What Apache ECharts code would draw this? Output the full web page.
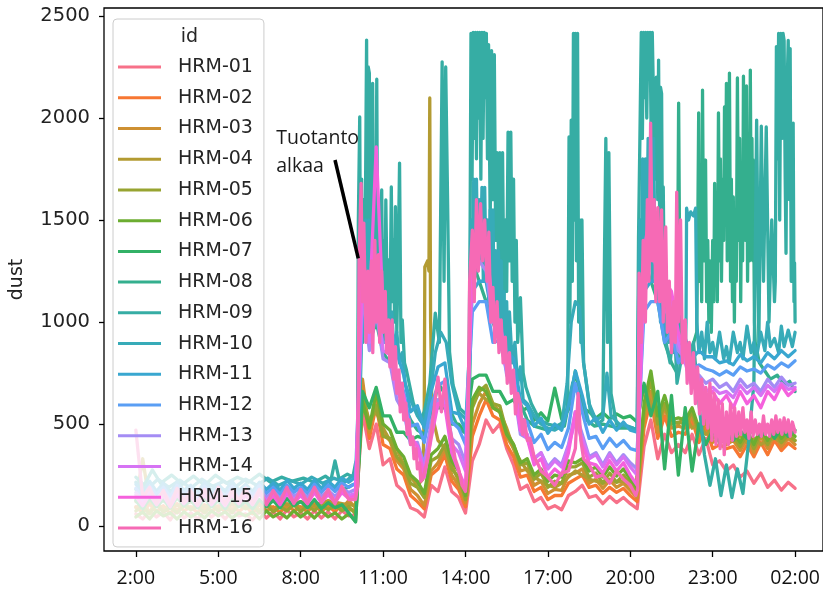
<!DOCTYPE html>
<html lang="en">
<head>
    <meta charset="utf-8" />
    <title>dust</title>
    <script src="https://cdn.jsdelivr.net/npm/echarts@6/dist/echarts.min.js"></script>
    <style>
        html, body { margin: 0; padding: 0; background: #fff; }
        #main { width: 823px; height: 597px; }
    </style>
</head>
<body>
<div id="main"></div>
<script>
    // x values are hours from midnight of the first day (26 = 02:00 next day)
    var tickHours = [2, 5, 8, 11, 14, 17, 20, 23, 26];
    var tickLabels = ['2:00', '5:00', '8:00', '11:00', '14:00', '17:00', '20:00', '23:00', '02:00'];
    var yTicks = [0, 500, 1000, 1500, 2000, 2500];
    var ids = ['HRM-01', 'HRM-02', 'HRM-03', 'HRM-04', 'HRM-05', 'HRM-06', 'HRM-07', 'HRM-08',
        'HRM-09', 'HRM-10', 'HRM-11', 'HRM-12', 'HRM-13', 'HRM-14', 'HRM-15', 'HRM-16'];

    // quarter hour sampling used by most sensors
    var gridHours = [2,2.25,2.5,2.75,3,3.25,3.5,3.75,4,4.25,4.5,4.75,5,5.25,5.5,5.75,6,6.25,6.5,6.75,
        7,7.25,7.5,7.75,8,8.25,8.5,8.75,9,9.25,9.5,9.75,10,10.25,10.5,10.75,11,11.25,11.5,11.75,
        12,12.25,12.5,12.75,13,13.25,13.5,13.75,14,14.25,14.5,14.75,15,15.25,15.5,15.75,16,16.25,16.5,16.75,
        17,17.25,17.5,17.75,18,18.25,18.5,18.75,19,19.25,19.5,19.75,20,20.25,20.5,20.75,21,21.25,21.5,21.75,
        22,22.25,22.5,22.75,23,23.25,23.5,23.75,24,24.25,24.5,24.75,25,25.25,25.5,25.75,26];

    var hrm01 = [
        60,35,75,45,70,30,80,40, 65,35,75,45,70,35,75,50, 60,30,75,40,70,35,80,45, 65,35,75,40,70,35,75,50,
        55,560,380,500,300,330,200,170, 90,75,45,200,170,290,170,140, 64,320,400,520,460,500,380,300,
        180,200,120,140,85,100,80,150, 170,200,140,150,110,145,115,140, 110,85,390,520,330,450,360,400,
        360,450,350,430,300,320,270,300, 240,270,210,260,190,225,176,215, 185];
    var hrm02 = [
        95,65,110,70,100,60,110,75, 95,65,105,70,100,70,110,70, 100,60,110,75,95,65,110,75, 95,70,110,70,100,70,110,80,
        80,680,430,590,400,380,280,250, 150,120,85,250,280,350,220,180, 95,440,540,620,540,520,400,340,
        240,250,170,190,130,150,150,210, 230,250,190,200,160,190,165,185, 150,120,480,620,430,540,440,460,
        450,520,410,480,380,400,380,390, 340,400,340,410,350,420,370,407, 380];
    var hrm03 = [
        90,110,70,120,80,110,75,115, 85,110,75,120,85,110,80,115, 90,115,75,120,80,110,85,120, 85,115,85,120,90,115,85,125,
        90,720,460,630,450,420,320,280, 180,150,100,270,310,380,250,200, 115,500,600,660,580,560,440,380,
        270,280,200,220,160,180,175,250, 260,280,210,230,185,225,190,210, 175,140,520,660,460,580,480,490,
        480,540,440,510,410,430,400,420, 370,430,360,440,380,450,390,430, 400];
    var hrm04 = [
        [2,120],[2.25,330],[2.5,110],[3,125],[3.5,100],[4,120],[4.5,95],[5,125],[5.5,105],[6,120],[6.5,100],
        [7,130],[7.5,105],[8,120],[8.5,100],[9,125],[9.5,110],[10,100],
        [10.1,300],[10.25,620],[10.5,520],[10.75,560],[11,480],[11.25,420],[11.5,380],[11.75,300],[12,240],
        [12.25,200],[12.45,230],[12.5,600],[12.52,1270],[12.62,1300],[12.67,1250],[12.7,2098],[12.73,1000],
        [12.78,550],[13,420],[13.25,380],[13.5,300],[13.75,220],[14.05,150],
        [14.15,500],[14.25,620],[14.5,650],[14.75,620],[15,600],[15.25,560],[15.5,480],[15.75,380],[16,320],
        [16.25,270],[16.5,240],[16.75,220],[17,200],[17.25,190],[17.5,210],[17.75,240],[18,270],[18.25,250],
        [18.5,230],[18.75,220],[19,210],[19.25,230],[19.5,215],[19.75,220],[20,200],[20.22,160],
        [20.3,550],[20.5,680],[20.75,600],[21,540],[21.25,580],[21.5,520],[21.75,500],[22,540],[22.25,480],
        [22.5,500],[22.75,450],[23,470],[23.25,430],[23.5,450],[23.75,420],[24,440],[24.25,410],[24.5,430],
        [24.75,400],[25,420],[25.25,430],[25.5,410],[25.75,440],[26,420]];
    var hrm05 = [
        75,95,60,105,70,90,65,100, 80,95,65,100,75,95,65,105, 85,100,65,105,70,95,75,105, 70,100,75,105,80,100,75,95,
        60,640,500,590,440,430,340,300, 210,190,140,320,340,400,280,240, 130,580,660,690,600,590,460,400,
        300,310,230,260,190,220,210,290, 290,310,240,260,210,260,215,250, 210,170,560,720,500,600,500,510,
        500,560,460,520,430,450,420,440, 390,450,380,460,400,470,410,450, 420];
    var hrm06 = [
        45,70,35,75,50,65,35,70, 45,65,40,75,50,70,40,65, 50,70,35,75,45,65,40,75, 45,70,40,75,45,65,35,60,
        25,610,480,660,500,470,380,340, 250,220,160,350,380,440,320,270, 150,620,680,660,580,560,450,400,
        310,330,250,280,220,250,240,320, 310,330,270,290,240,290,245,280, 230,190,600,760,540,640,520,530,
        520,580,480,540,450,470,440,460, 410,470,400,480,420,490,430,470, 440];
    var hrm07 = [
        125,85,135,95,130,90,140,100, 125,90,135,95,125,85,135,95, 120,85,130,95,125,90,135,100, 120,90,130,85,115,90,105,65,
        20,660,580,680,540,540,460,460, 420,440,430,580,580,580,500,500, 460,720,740,740,660,660,600,620,
        560,580,520,555,515,676,525,570, 760,580,560,530,555,525,550,530, 540,510,700,540,660,280,640,250,
        580,270,500,400,470,410,480,420, 470,430,490,440,480,430,480,440, 470];
    var hrm08 = [
        [2,180],[2.5,150],[3,190],[3.5,160],[4,185],[4.5,155],[5,190],[5.5,160],[6,180],[6.5,165],[7,195],
        [7.5,160],[8,185],[8.5,170],[9,200],[9.5,175],[10,210],
        [10.1,300],[10.25,1100],[10.5,900],[10.75,1000],[11,850],[11.25,800],[11.5,700],[11.75,600],[12,520],
        [12.25,470],[12.5,450],[12.75,520],[13,700],[13.25,650],[13.5,550],[13.75,480],[14.05,450],
        [14.15,700],[14.25,1300],[14.5,1200],[14.75,1100],[15,1000],[15.25,900],[15.5,800],[15.75,700],[16,600],
        [16.25,520],[16.5,490],[16.75,480],[17,470],[17.3,480],[17.6,490],[17.9,700],[18.1,650],[18.4,520],
        [18.7,490],[19,500],[19.3,490],[19.6,480],[20,480],[20.25,470],
        [20.35,900],[20.5,1300],[20.75,1200],[21,1100],[21.25,900],[21.5,800],[21.7,750],[21.76,2073],[21.82,800],
        [22,900],[22.2,850],[22.42,950],[22.46,1500],[22.49,2025],[22.52,1200],[22.56,1600],[22.6,1100],
        [22.63,2137],[22.66,1500],[22.68,1300],[22.71,1700],[22.74,1794],[22.78,1100],[22.82,1400],[22.86,1000],
        [22.9,1300],[22.95,950],[23,1400],[23.04,1100],[23.07,1680],[23.1,1200],[23.14,1500],[23.17,1100],
        [23.21,2025],[23.25,1300],[23.28,1800],[23.32,1200],[23.36,1700],[23.4,1400],[23.43,2054],[23.47,1600],
        [23.5,2170],[23.53,1300],[23.56,1900],[23.58,1400],[23.61,2220],[23.65,1200],[23.68,1700],[23.72,1100],
        [23.75,1613],[23.79,1000],[23.82,1500],[23.86,1200],[23.9,2196],[23.94,1400],[23.98,1900],[24.02,1100],
        [24.05,1600],[24.09,1300],[24.12,2205],[24.15,1500],[24.18,1900],[24.2,1400],[24.23,2157],[24.27,1200],
        [24.3,1700],[24.34,1300],[24.37,2235],[24.4,1500],[24.43,1900],[24.46,1300],[24.48,1794],[24.52,1000],
        [24.55,900],[24.7,800],[24.9,760],[25.1,720],[25.35,740],[25.6,690],[25.8,710],[26,660]];
    var hrm09 = [
        [2,240],[2.3,200],[2.6,275],[2.9,210],[3.3,250],[3.7,205],[4.1,245],[4.5,200],[4.9,250],[5.3,210],
        [5.7,240],[6.1,215],[6.5,255],[6.9,215],[7.3,240],[7.7,220],[8.1,235],[8.5,215],[8.9,245],[9.1,225],
        [9.25,320],[9.4,230],[9.7,255],[9.9,240],[10,310],[10.07,330],
        [10.1,1500],[10.15,2005],[10.18,1100],[10.22,1700],[10.26,900],[10.3,1600],[10.34,1200],[10.38,2000],
        [10.4,2382],[10.43,1300],[10.46,2250],[10.5,2220],[10.53,1100],[10.57,1900],[10.62,2170],[10.66,1200],
        [10.7,1700],[10.74,1300],[10.77,2190],[10.81,1000],[10.85,1500],[10.9,1100],[10.95,1647],[10.99,1000],
        [11.02,1400],[11.06,900],[11.1,1598],[11.15,1100],[11.2,1304],[11.25,1000],[11.3,1662],[11.34,1100],
        [11.38,1400],[11.42,1000],[11.45,1565],[11.5,950],[11.55,1300],[11.6,1779],[11.65,900],[11.7,1010],
        [11.78,800],[11.85,765],[12.1,603],[12.35,520],[12.5,560],
        [12.7,700],[12.9,1044],[13.05,900],[13.15,2275],[13.22,1200],[13.28,2250],[13.35,1583],[13.42,853],
        [13.55,690],[13.8,575],[14.05,545],
        [14.12,600],[14.17,1500],[14.2,2415],[14.24,1700],[14.28,2420],[14.32,1900],[14.36,2420],[14.4,1800],
        [14.44,2420],[14.48,2000],[14.52,2420],[14.56,1700],[14.6,2420],[14.64,1900],[14.68,2420],[14.72,2100],
        [14.76,2415],[14.8,1800],[14.84,2360],[14.9,1500],[14.95,2330],[15,1600],[15.05,2310],[15.1,1400],
        [15.15,1830],[15.2,1300],[15.25,1830],[15.3,1200],[15.35,1830],[15.4,1100],[15.45,1500],[15.5,1150],
        [15.55,1930],[15.6,1300],[15.65,1930],[15.7,1200],[15.75,1700],[15.8,1000],[15.85,1400],[15.9,900],
        [16,1120],[16.1,750],[16.2,680],[16.4,600],[16.7,520],[17,500],[17.3,490],[17.6,510],
        [17.72,600],[17.77,1907],[17.8,1000],[17.85,1990],[17.89,1200],[17.93,2415],[17.97,1500],[18,2415],
        [18.04,1300],[18.08,2415],[18.12,1000],[18.16,1500],[18.2,900],[18.24,1500],[18.3,800],
        [18.55,560],[18.8,500],[19,520],[19.05,1200],[19.11,1900],[19.17,900],[19.22,1830],
        [19.3,650],[19.5,500],[19.8,490],[20.1,480],[20.25,470],
        [20.3,1417],[20.35,1900],[20.4,2420],[20.44,1900],[20.48,2420],[20.52,2100],[20.56,2420],[20.6,2000],
        [20.64,2420],[20.68,2200],[20.72,2420],[20.76,1900],[20.8,2420],[20.85,2420],[20.9,1700],[20.95,2200],
        [21,1600],[21.03,2284],[21.07,1500],[21.1,2150],[21.14,2120],[21.17,1400],[21.2,1662],[21.25,1000],
        [21.3,900],[21.45,800],[21.6,1000],[21.7,700],
        [21.9,850],[22.1,800],[22.3,900],[22.5,600],[22.7,350],[22.9,200],[23.1,330],[23.3,150],[23.5,300],
        [23.7,140],[23.9,280],[24.1,160],[24.3,400],[24.5,700],
        [24.6,1990],[24.68,900],[24.77,1960],[24.85,1200],[24.95,1956],[25.05,1000],[25.15,1500],[25.25,1100],
        [25.28,1200],[25.32,2350],[25.36,1800],[25.4,2415],[25.44,1500],[25.48,2415],[25.52,1900],[25.56,2415],
        [25.6,2380],[25.64,1700],[25.67,1337],[25.7,2100],[25.75,2380],[25.79,1600],[25.82,2340],[25.86,1200],
        [25.9,1800],[25.93,1975],[25.96,1100],[25.98,1290],[26,1000]];
    var hrm10 = [
        [2,215],[2.4,180],[2.8,230],[3.2,190],[3.6,225],[4,185],[4.4,230],[4.8,195],[5.2,220],[5.6,190],
        [6,230],[6.4,200],[6.8,235],[7.2,200],[7.6,225],[8,205],[8.4,240],[8.8,210],[9.2,235],[9.6,215],[10,260],
        [10.08,300],[10.12,1300],[10.18,1000],[10.24,1400],[10.3,1100],[10.36,1500],[10.42,1150],[10.48,1500],
        [10.54,1100],[10.6,1300],[10.66,1050],[10.72,1400],[10.78,1000],[10.84,1250],[10.9,950],[10.96,1250],
        [11.02,950],[11.08,1150],[11.14,900],[11.2,1100],[11.26,850],[11.32,1050],[11.4,850],[11.5,950],
        [11.6,800],[11.7,850],[11.8,700],[12,620],[12.25,540],[12.45,500],
        [12.7,620],[12.9,850],[13.1,950],[13.3,900],[13.5,700],[13.75,560],[14.05,520],
        [14.15,900],[14.2,1500],[14.25,1200],[14.3,1700],[14.35,1300],[14.4,1700],[14.45,1250],[14.5,1600],
        [14.55,1300],[14.6,1660],[14.65,1200],[14.7,1660],[14.75,1200],[14.8,1500],[14.85,1100],[14.9,1550],
        [14.95,1150],[15,1550],[15.05,1000],[15.1,1350],[15.15,1000],[15.2,1350],[15.25,950],[15.3,1300],
        [15.35,900],[15.4,1150],[15.45,850],[15.5,1100],[15.55,800],[15.6,1050],[15.7,800],[15.8,900],
        [15.9,700],[16,780],[16.1,620],[16.25,600],[16.5,540],
        [16.75,500],[17,480],[17.25,470],[17.5,490],[17.7,700],[17.85,1000],[18,1100],[18.15,1075],[18.3,800],
        [18.5,600],[18.75,520],[19,540],[19.15,750],[19.3,540],[19.6,500],[19.9,490],[20.1,480],[20.25,470],
        [20.3,1100],[20.35,1500],[20.4,1200],[20.45,1800],[20.5,1300],[20.55,1800],[20.6,1400],[20.65,1900],
        [20.7,1300],[20.75,1600],[20.8,1200],[20.85,1900],[20.9,1300],[20.95,1500],[21,1100],[21.05,1400],
        [21.1,1000],[21.15,1300],[21.2,950],[21.3,1100],[21.4,900],[21.5,1000],[21.6,850],[21.7,1050],
        [21.8,850],[21.9,950],[22,850],[22.03,1000],[22.05,1558],[22.12,1500],[22.2,1540],[22.3,1520],
        [22.38,1558],[22.42,1000],[22.5,850],[22.6,950],[22.7,820],[22.8,1000],[22.9,850],[23,900],[23.1,820],
        [23.25,950],[23.4,820],[23.5,880],[23.6,800],[23.75,950],[23.9,850],[24,900],[24.1,820],[24.25,980],
        [24.4,850],[24.5,900],[24.6,830],[24.75,950],[24.9,860],[25,1000],[25.1,880],[25.25,920],[25.4,850],
        [25.5,980],[25.6,880],[25.75,960],[25.9,880],[26,950]];
    var hrm11 = [
        205,165,220,170,210,160,215,175, 200,165,215,175,205,170,220,175, 205,170,215,180,210,175,225,185, 210,180,225,185,220,190,235,215,
        240,1200,950,1250,1000,1000,850,740, 560,590,480,660,780,800,560,550, 470,1150,1200,1200,1000,1000,860,820,
        620,590,490,530,455,500,470,590, 760,640,500,530,460,520,470,510, 470,460,1150,1200,1200,950,1000,860,
        920,820,860,830,830,800,810,790, 840,810,830,800,850,820,860,830, 860];
    var hrm12 = [
        185,145,195,155,190,145,200,160, 185,150,195,155,185,145,195,155, 190,150,200,160,190,155,200,165, 190,160,205,165,200,170,210,190,
        210,1050,1150,1040,900,900,740,660, 490,500,410,590,690,710,510,480, 400,1050,1100,1100,900,910,760,740,
        530,510,410,450,375,410,385,480, 700,560,430,440,380,430,390,420, 380,370,1050,1100,1100,900,950,800,
        860,770,790,770,760,740,760,740, 780,760,770,750,790,770,800,780, 810];
    var hrm13 = [
        165,130,175,135,170,125,175,140, 165,130,175,135,165,130,175,140, 170,135,180,140,170,135,180,145, 170,140,185,145,175,145,185,165,
        180,1150,860,1050,820,800,620,560, 400,410,300,510,620,630,430,400, 310,1250,1300,1250,1000,960,740,680,
        450,430,330,360,290,330,300,400, 560,450,340,360,300,360,310,350, 310,280,1150,1350,1250,1050,1050,860,
        820,700,740,700,720,680,700,660, 720,680,700,660,720,680,730,690, 700];
    var hrm14 = [
        155,115,165,120,160,110,165,125, 155,115,165,120,155,115,165,125, 160,120,170,125,160,120,170,130, 160,125,175,130,165,130,175,150,
        160,1250,900,1150,860,840,660,600, 420,390,270,480,600,610,400,360, 270,1350,1400,1350,1050,1000,780,720,
        470,450,330,360,280,320,290,390, 520,430,330,350,290,350,300,340, 290,250,1250,1450,1350,1150,1100,900,
        800,680,720,660,680,650,660,630, 690,650,680,640,690,660,700,670, 680];
    var hrm15 = [
        145,100,155,105,150,95,155,110, 145,100,155,105,145,100,155,110, 150,105,160,110,150,105,160,115, 150,110,165,115,155,115,165,135,
        150,1350,1050,1858,1050,950,720,640, 440,390,240,430,600,590,360,270, 190,1300,1450,1400,1050,1000,780,720,
        470,430,300,330,240,280,250,360, 560,400,310,300,260,320,270,310, 250,200,1350,1550,1400,1200,1150,950,
        840,680,700,640,660,600,640,580, 660,600,640,580,660,620,690,640, 670];
    var hrm16 = [
        [2,470],[2.25,140],[2.5,190],[2.75,110],[3,175],[3.25,100],[3.5,185],[3.75,120],[4,175],[4.25,105],
        [4.5,180],[4.75,115],[5,190],[5.25,110],[5.5,175],[5.75,125],[6,185],[6.25,110],[6.5,180],[6.75,105],
        [7,175],[7.25,120],[7.5,190],[7.75,110],[8,180],[8.25,115],[8.5,190],[8.75,120],[9,180],[9.25,110],
        [9.5,195],[9.75,130],[10,130],[10.08,200],
        [10.125,1300],[10.2,1680],[10.25,1100],[10.3,1485],[10.375,900],[10.45,1250],[10.5,950],[10.58,1300],
        [10.625,850],[10.7,1400],[10.75,1000],[10.83,1330],[10.875,900],[10.95,1250],[11,950],[11.08,1150],
        [11.125,850],[11.2,1010],[11.25,780],[11.33,1010],[11.375,720],[11.45,880],[11.5,650],[11.58,765],
        [11.625,560],[11.7,700],[11.75,520],[11.83,603],[11.875,450],[11.95,520],[12,400],[12.08,437],
        [12.125,330],[12.2,380],[12.25,280],[12.33,310],[12.375,220],[12.44,230],[12.5,260],
        [12.625,330],[12.75,450],[12.875,600],[13,730],[13.125,560],[13.25,720],[13.375,520],[13.5,430],
        [13.625,330],[13.75,280],[13.875,200],[14,170],
        [14.08,300],[14.15,1200],[14.25,1450],[14.32,1100],[14.4,1600],[14.47,1250],[14.55,1580],[14.62,1300],
        [14.7,1500],[14.78,1200],[14.85,1440],[14.92,1000],[15,1170],[15.07,900],[15.15,1100],[15.22,850],
        [15.3,1010],[15.37,800],[15.45,926],[15.52,700],[15.6,850],[15.67,650],[15.75,765],[15.82,550],
        [15.9,650],[16,600],[16.08,450],[16.15,520],[16.25,420],[16.35,430],[16.5,340],[16.62,310],[16.75,270],
        [17,240],[17.25,200],[17.5,260],[17.75,270],[18,380],[18.1,650],[18.2,420],[18.3,330],[18.5,300],
        [18.75,240],[19,250],[19.25,210],[19.5,270],[19.75,230],[20,200],[20.2,150],
        [20.27,180],[20.32,1240],[20.4,900],[20.47,1400],[20.55,1000],[20.62,1600],[20.68,1200],[20.74,1975],
        [20.8,1300],[20.87,1600],[20.93,1100],[21,1560],[21.07,1100],[21.14,1550],[21.2,1000],[21.29,1466],
        [21.35,950],[21.42,1200],[21.5,850],[21.58,1100],[21.64,900],[21.69,1637],[21.75,1000],[21.83,1500],
        [21.9,800],[22,1010],[22.07,700],[22.15,900],[22.22,650],[22.3,850],[22.37,600],[22.45,780],[22.52,550],
        [22.6,720],[22.67,500],[22.75,680],[22.82,480],[22.9,700],[22.97,420],[23.05,650],[23.12,400],[23.2,620],
        [23.27,380],[23.35,600],[23.42,350],[23.5,560],[23.57,400],[23.65,600],[23.72,420],[23.8,580],[23.87,440],
        [23.95,560],[24.02,450],[24.1,580],[24.17,460],[24.25,520],[24.32,430],[24.4,560],[24.47,440],[24.55,520],
        [24.62,450],[24.7,500],[24.77,440],[24.85,540],[24.92,450],[25,500],[25.07,440],[25.15,520],[25.22,450],
        [25.3,540],[25.37,460],[25.45,520],[25.52,450],[25.6,530],[25.67,460],[25.75,520],[25.82,440],[25.9,510],
        [26,460]];

    function onGrid(vals) {
        return gridHours.map(function (h, i) { return [h, vals[i]]; });
    }

    var seriesData = [onGrid(hrm01), onGrid(hrm02), onGrid(hrm03), hrm04, onGrid(hrm05), onGrid(hrm06),
        onGrid(hrm07), hrm08, hrm09, hrm10, onGrid(hrm11), onGrid(hrm12), onGrid(hrm13), onGrid(hrm14),
        onGrid(hrm15), hrm16];

    // seaborn "husl" palette: hsluv -> rgb
    function husl(h, s, l) {
        var M = [[3.240969941904521, -1.537383177570093, -0.498610760293],
            [-0.96924363628087, 1.87596750150772, 0.041555057407175],
            [0.055630079696993, -0.20397695888897, 1.056971514242878]];
        var kappa = 903.2962962, eps = 0.0088564516;
        var sub1 = Math.pow(l + 16, 3) / 1560896;
        var sub2 = sub1 > eps ? sub1 : l / kappa;
        var hr = h / 360 * 2 * Math.PI;
        var maxC = Infinity;
        M.forEach(function (r) {
            [0, 1].forEach(function (t) {
                var top1 = (284517 * r[0] - 94839 * r[2]) * sub2;
                var top2 = (838422 * r[2] + 769860 * r[1] + 731718 * r[0]) * l * sub2 - 769860 * t * l;
                var bottom = (632260 * r[2] - 126452 * r[1]) * sub2 + 126452 * t;
                var len = (top2 / bottom) / (Math.sin(hr) - (top1 / bottom) * Math.cos(hr));
                if (len >= 0) maxC = Math.min(maxC, len);
            });
        });
        var c = maxC / 100 * s;
        var u = c * Math.cos(hr), v = c * Math.sin(hr);
        var vu = u / (13 * l) + 0.19783000664283, vv = v / (13 * l) + 0.46831999493879;
        var Y = l <= 8 ? l / kappa : Math.pow((l + 16) / 116, 3);
        var X = 0 - (9 * Y * vu) / ((vu - 4) * vv - vu * vv);
        var Z = (9 * Y - 15 * vv * Y - vv * X) / (3 * vv);
        return '#' + M.map(function (r) {
            var x = r[0] * X + r[1] * Y + r[2] * Z;
            x = x <= 0.0031308 ? 12.92 * x : 1.055 * Math.pow(x, 1 / 2.4) - 0.055;
            x = Math.round(Math.min(1, Math.max(0, x)) * 255);
            return (x < 16 ? '0' : '') + x.toString(16);
        }).join('');
    }

    var colors = ids.map(function (d, i) { return husl(((i / 16 + 0.01) % 1) * 359, 89.1, 64.35); });

    var myChart = echarts.init(document.getElementById('main'));

    var option = {
        animation: false,
        color: colors,
        grid: {
            left: 103, top: 8, width: 722, height: 543,
            show: true, borderColor: '#000', borderWidth: 1.3, backgroundColor: 'transparent'
        },
        xAxis: {
            type: 'value',
            min: 0.84,
            max: 27.016,
            axisLine: {show: false, onZero: false},
            splitLine: {show: false},
            axisTick: {show: true, length: 6, customValues: tickHours, lineStyle: {color: '#000', width: 1.3}},
            axisLabel: {
                customValues: tickHours,
                formatter: function (v) { return tickLabels[tickHours.indexOf(v)]; },
                margin: 17,
                fontFamily: 'Open Sans',
                fontSize: 19.5,
                color: '#111'
            }
        },
        yAxis: {
            type: 'value',
            min: -122,
            max: 2539,
            name: 'dust',
            nameLocation: 'middle',
            nameGap: 77,
            nameTextStyle: {fontFamily: 'DejaVu Sans', fontSize: 19, color: '#222'},
            axisLine: {show: false, onZero: false},
            splitLine: {show: false},
            axisTick: {show: true, length: 5, customValues: yTicks, lineStyle: {color: '#000', width: 1.3}},
            axisLabel: {
                customValues: yTicks,
                formatter: function (v) { return String(v); },
                margin: 14, fontFamily: 'DejaVu Sans', fontSize: 19.5, color: '#222'
            }
        },
        legend: {
            data: ids,
            orient: 'vertical',
            left: 113,
            top: 19,
            padding: [38, 11, 9, 5],
            itemWidth: 43,
            itemHeight: 3,
            itemGap: 10.73,
            icon: 'rect',
            selectedMode: false,
            backgroundColor: 'rgba(255,255,255,0.8)',
            borderColor: '#cccccc',
            borderWidth: 1,
            borderRadius: 4,
            textStyle: {fontFamily: 'DejaVu Sans', fontSize: 19, lineHeight: 20, color: '#262626', padding: [0, 0, 0, 12]}
        },
        series: ids.map(function (name, i) {
            return {
                name: name,
                type: 'line',
                data: seriesData[i],
                symbol: 'none',
                showSymbol: false,
                silent: true,
                emphasis: {disabled: true},
                lineStyle: {width: 3.3, join: 'round', cap: 'round'}
            };
        })
    };

    myChart.setOption(option);

    // "production starts" note, anchored in data space
    var a1 = myChart.convertToPixel({gridIndex: 0}, [9.25, 1794]);
    var a2 = myChart.convertToPixel({gridIndex: 0}, [10.096, 1312]);
    var t1 = myChart.convertToPixel({gridIndex: 0}, [7.11, 1900]);
    var t2 = myChart.convertToPixel({gridIndex: 0}, [7.11, 1763]);

    myChart.setOption({
        graphic: [
            {type: 'text', z: 100, style: {text: 'id', x: 189.5, y: 37.5, align: 'center', verticalAlign: 'middle',
                fontFamily: 'DejaVu Sans', fontSize: 19, fill: '#262626'}},
            {type: 'line', z: 100, shape: {x1: a1[0], y1: a1[1], x2: a2[0], y2: a2[1]},
                style: {stroke: '#000', lineWidth: 3.5}},
            {type: 'text', z: 100, style: {text: 'Tuotanto', x: t1[0], y: t1[1], align: 'left', verticalAlign: 'middle',
                fontFamily: 'Open Sans', fontSize: 19.5, fill: '#1b1b1b'}},
            {type: 'text', z: 100, style: {text: 'alkaa', x: t2[0], y: t2[1], align: 'left', verticalAlign: 'middle',
                fontFamily: 'Open Sans', fontSize: 19.5, fill: '#1b1b1b'}}
        ]
    });
</script>
</body>
</html>
